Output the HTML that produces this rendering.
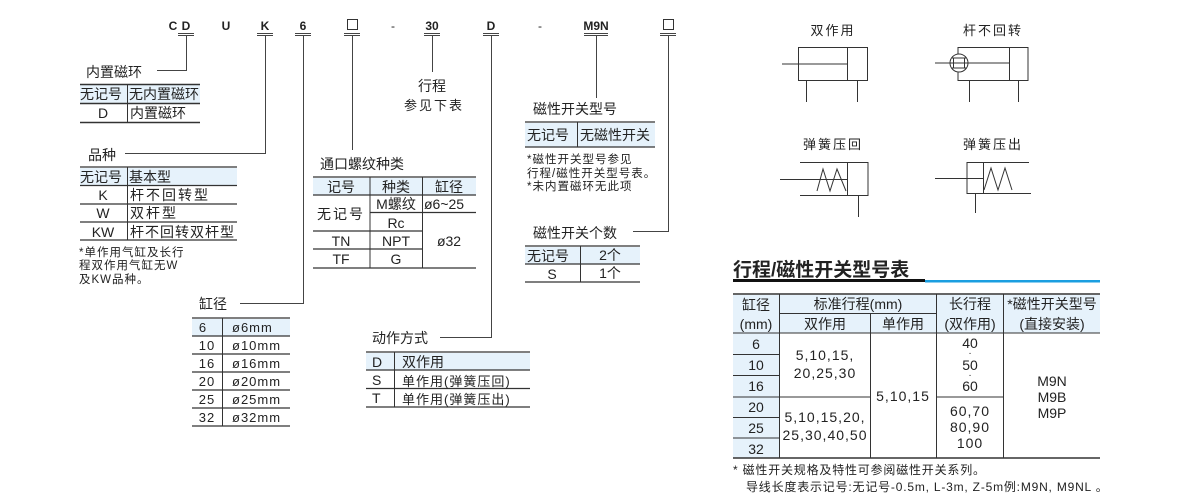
<!DOCTYPE html>
<html><head><meta charset="utf-8"><style>
html,body{margin:0;padding:0;background:#fff}
svg{display:block}
text{font-family:"Liberation Sans","Noto Sans CJK SC",sans-serif;fill:#222}
</style></head><body>
<svg width="1200" height="500" viewBox="0 0 1200 500" xmlns="http://www.w3.org/2000/svg">
<g font-size="12" font-weight="bold" text-anchor="middle">
<text x="173" y="30">C</text><text x="186" y="30">D</text><text x="226" y="30">U</text><text x="265" y="30">K</text><text x="303" y="30">6</text><text x="393" y="30" font-weight="normal">-</text><text x="432" y="30">30</text><text x="491" y="30">D</text><text x="540" y="30" font-weight="normal">-</text><text x="596" y="30">M9N</text>
</g>
<g stroke="#333" fill="none" stroke-width="1">
<rect x="347.5" y="19.5" width="10" height="10"/>
<rect x="663.5" y="19.5" width="10" height="10"/>
</g>
<g stroke="#444" stroke-width="1" fill="none">
<path d="M178 33.5h16M178 35.5h16M257 33.5h16M257 35.5h16M295 33.5h16M295 35.5h16M344 33.5h16M344 35.5h16M424 33.5h16M424 35.5h16M483 33.5h16M483 35.5h16M584 33.5h24M584 35.5h24M660 33.5h16M660 35.5h16"/>
<path d="M186.5 36V70.5H157"/>
<path d="M265.5 36V153.5H125"/>
<path d="M303.5 36V303.5H240"/>
<path d="M352.5 36V150"/>
<path d="M432.5 36V72"/>
<path d="M491.5 36V337.5H440"/>
<path d="M596.5 36V98"/>
<path d="M668.5 36V231.5H633"/>
</g>
<g fill="#e6f2fb">
<rect x="80" y="85" width="120" height="18"/>
<rect x="80" y="168" width="157" height="17"/>
<rect x="192" y="319" width="98" height="17"/>
<rect x="313" y="178" width="163" height="17"/>
<rect x="366" y="353" width="164" height="17"/>
<rect x="525" y="123" width="130" height="24"/>
<rect x="525" y="247" width="115" height="17"/>
<rect x="733" y="295" width="367" height="38"/>
<rect x="733" y="333" width="46" height="125"/>
</g>
<g stroke="#333" fill="none">
<path d="M80 84.5h120M80 103.5h120M80 122.5h120" stroke-width="1.5"/>
<path d="M127.5 84v38"/>
<path d="M80 167h157M80 185.5h157M80 204h157M80 222h157M80 240h157" stroke-width="1.3"/>
<path d="M127.5 167v73"/>
<path d="M192 318h98M192 336h98M192 354h98M192 372h98M192 390h98M192 408h98M192 426h98" stroke-width="1.2"/>
<path d="M222.5 318v108"/>
<path d="M313 177h163M313 195h163M370 212.5h106M313 231h109M313 249h109M313 268h163" stroke-width="1.2"/>
<path d="M370 177v91M422.5 177v91"/>
<path d="M366 352h164M366 370h164M366 388.5h164M366 407h164" stroke-width="1.3"/>
<path d="M394.5 352v55"/>
<path d="M525 122h130M525 147h130" stroke-width="1.3"/>
<path d="M577.5 122v25"/>
<path d="M525 246h115M525 264h115M525 282h115" stroke-width="1.3"/>
<path d="M580.5 246v36"/>
<path d="M733 294h367M733 458h367" stroke-width="1.5"/>
<path d="M779 313.5h158M733 333h367M733 354.5h46M733 375.5h46M733 397h137M937 397h66M733 417.5h46M733 438h46" stroke-width="1"/>
<path d="M779.5 294v164M870.5 313v145M936.5 294v164M1003.5 294v164"/>
</g>
<rect x="733" y="279" width="192" height="3" fill="#111"/>
<rect x="925" y="280" width="175" height="2.5" fill="#1a9ee0"/>
<g font-size="14">
<text x="86" y="77">内置磁环</text>
<text x="80" y="99">无记号</text><text x="129" y="99">无内置磁环</text>
<text x="103" y="118" text-anchor="middle">D</text><text x="130" y="118">内置磁环</text>
<text x="88" y="160">品种</text>
<text x="80" y="182">无记号</text><text x="129" y="182">基本型</text>
<text x="103" y="200" text-anchor="middle">K</text><text x="130" y="200" letter-spacing="2">杆不回转型</text>
<text x="103" y="218" text-anchor="middle">W</text><text x="130" y="218" letter-spacing="2">双杆型</text>
<text x="103" y="237" text-anchor="middle">KW</text><text x="130" y="237" letter-spacing="1">杆不回转双杆型</text>
<text x="199" y="309">缸径</text>
<text x="320" y="169">通口螺纹种类</text>
<text x="341" y="192" text-anchor="middle">记号</text><text x="396" y="192" text-anchor="middle">种类</text><text x="449" y="192" text-anchor="middle">缸径</text>
<text x="341" y="219" text-anchor="middle" letter-spacing="2">无记号</text>
<text x="396" y="209" text-anchor="middle">M螺纹</text><text x="424" y="209">ø6~25</text>
<text x="396" y="228" text-anchor="middle">Rc</text>
<text x="341" y="246" text-anchor="middle">TN</text><text x="396" y="246" text-anchor="middle">NPT</text>
<text x="449" y="246" text-anchor="middle">ø32</text>
<text x="341" y="264" text-anchor="middle">TF</text><text x="396" y="264" text-anchor="middle">G</text>
<text x="432" y="91" text-anchor="middle">行程</text>
<text x="434" y="110" text-anchor="middle" font-size="13" letter-spacing="2">参见下表</text>
<text x="372" y="343">动作方式</text>
<text x="372" y="367">D</text><text x="402" y="367">双作用</text>
<text x="372" y="385">S</text><text x="402" y="386" font-size="13" letter-spacing="1">单作用(弹簧压回)</text>
<text x="372" y="403">T</text><text x="402" y="404" font-size="13" letter-spacing="1">单作用(弹簧压出)</text>
<text x="533" y="114">磁性开关型号</text>
<text x="527" y="140">无记号</text><text x="580" y="140">无磁性开关</text>
<text x="533" y="238">磁性开关个数</text>
<text x="527" y="261">无记号</text><text x="610" y="260" text-anchor="middle">2个</text>
<text x="552" y="279" text-anchor="middle">S</text><text x="610" y="278" text-anchor="middle">1个</text>
</g>
<g font-size="13" letter-spacing="1">
<text x="203" y="332" text-anchor="middle">6</text><text x="232" y="332">ø6mm</text>
<text x="207" y="350" text-anchor="middle">10</text><text x="232" y="350">ø10mm</text>
<text x="207" y="368" text-anchor="middle">16</text><text x="232" y="368">ø16mm</text>
<text x="207" y="386" text-anchor="middle">20</text><text x="232" y="386">ø20mm</text>
<text x="207" y="404" text-anchor="middle">25</text><text x="232" y="404">ø25mm</text>
<text x="207" y="422" text-anchor="middle">32</text><text x="232" y="422">ø32mm</text>
</g>
<g font-size="11.5" letter-spacing="1">
<text x="79" y="256">*单作用气缸及长行</text>
<text x="79" y="269">程双作用气缸无W</text>
<text x="79" y="283">及KW品种。</text>
<text x="527" y="163">*磁性开关型号参见</text>
<text x="527" y="177">行程/磁性开关型号表。</text>
<text x="527" y="190">*未内置磁环无此项</text>
</g>
<text x="733" y="276" font-size="19" font-weight="bold" fill="#111">行程/磁性开关型号表</text>
<g font-size="14" text-anchor="middle">
<text x="756" y="310">缸径</text><text x="756" y="329">(mm)</text>
<text x="858" y="309">标准行程(mm)</text>
<text x="825" y="329">双作用</text><text x="903" y="329">单作用</text>
<text x="970" y="309">长行程</text><text x="970" y="329">(双作用)</text>
<text x="1052" y="309">*磁性开关型号</text><text x="1052" y="329">(直接安装)</text>
<text x="756" y="349">6</text><text x="756" y="370">10</text><text x="756" y="391">16</text>
<text x="756" y="412">20</text><text x="756" y="433">25</text><text x="756" y="454">32</text>
<g letter-spacing="1">
<text x="825" y="360">5,10,15,</text><text x="825" y="378">20,25,30</text>
<text x="825" y="422">5,10,15,20,</text><text x="825" y="440">25,30,40,50</text>
<text x="903" y="401">5,10,15</text>
<text x="970" y="416">60,70</text><text x="970" y="432">80,90</text><text x="970" y="448">100</text>
</g>
<text x="970" y="348">40</text><text x="970" y="370">50</text><text x="970" y="391">60</text>
<text x="970" y="356" font-size="10">·</text><text x="970" y="378" font-size="10">·</text>
<text x="1052" y="386">M9N</text><text x="1052" y="402">M9B</text><text x="1052" y="418">M9P</text>
</g>
<g font-size="12" letter-spacing="0.8">
<text x="733" y="474">* 磁性开关规格及特性可参阅磁性开关系列。</text>
<text x="746" y="491">导线长度表示记号:无记号-0.5m, L-3m, Z-5m例:M9N, M9NL 。</text>
</g>
<g font-size="13" text-anchor="middle" letter-spacing="2">
<text x="833" y="35">双作用</text><text x="993" y="35">杆不回转</text>
<text x="833" y="149">弹簧压回</text><text x="993" y="149">弹簧压出</text>
</g>
<g stroke="#333" fill="none" stroke-width="1">
<rect x="798.5" y="47.5" width="69" height="33"/><path d="M847.5 47v33M782 64h65M806.5 81v21M857.5 81v21"/>
<path d="M958 47.5h70v33h-70v-8M958 54v-7"/><path d="M1009.5 47v33M935 63h75M969.5 81v21M1018.5 81v21"/>
<circle cx="959" cy="63" r="9"/><path d="M952 58h14M952 68h14M953.5 58v10M964.5 58v10"/>
<path d="M800 162.5h68v33h-68M847.5 162v34M780 179.5h67M858.5 196v21"/>
<path d="M817 191l6-22 7 22 7-22 9 22"/>
<path d="M1029 162.5h-62v31h64M983.5 162v32M935 178.5h48M975.5 194v19"/>
<path d="M984 190l7-22 7 22 7-22 7 22"/>
</g>
</svg>
</body></html>
